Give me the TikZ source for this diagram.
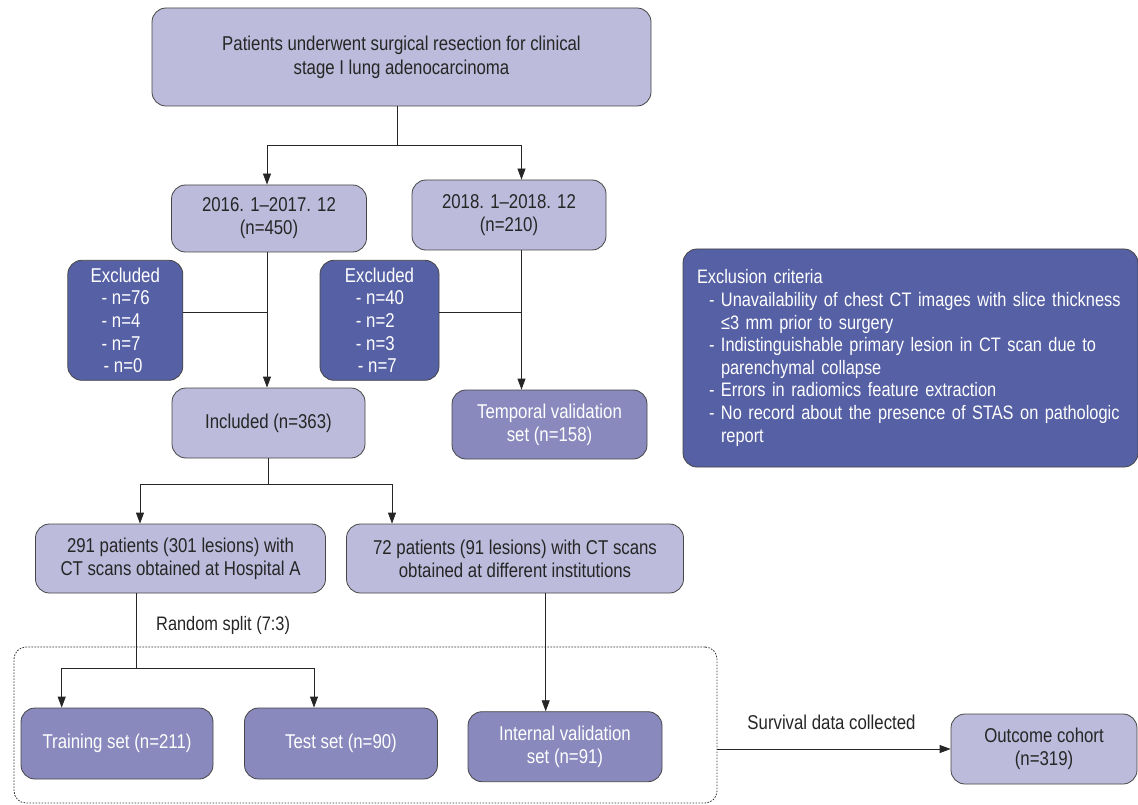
\documentclass[tikz,border=0pt]{standalone}
\usepackage{fontspec}
\setmainfont{Liberation Sans}[FakeStretch=0.84]
\usetikzlibrary{arrows.meta}
\definecolor{lightbox}{RGB}{188,187,219}
\definecolor{midbox}{RGB}{137,137,189}
\definecolor{darkbox}{RGB}{86,96,164}
\definecolor{edgegray}{RGB}{70,70,70}
\begin{document}
\begin{tikzpicture}[x=1pt,y=-1pt,
  every node/.style={font=\fontsize{20}{23}\selectfont},
  box/.style={draw=edgegray, line width=0.8pt, rounded corners=14pt, align=center, inner sep=0pt},
  lightb/.style={box, fill=lightbox, text=black!85},
  midb/.style={box, fill=midbox, text=white},
  darkb/.style={box, fill=darkbox, text=white},
  ln/.style={draw=black!85, line width=0.8pt},
  arr/.style={ln, -{Triangle[length=11pt,width=8pt]}},
  lbl/.style={text=black!85, inner sep=0pt}
]
\useasboundingbox (0,0) rectangle (1138,805);
\fill[white] (0,0) rectangle (1138,805);

% boxes
\node[lightb, minimum width=499pt, minimum height=98pt, font=\fontsize{20}{24}\selectfont] (top) at (401.5,57) {Patients underwent surgical resection for clinical\\stage I lung adenocarcinoma};
\node[lightb, minimum width=195pt, minimum height=67pt] (b16) at (269,218.5) {2016. 1–2017. 12\\(n=450)};
\node[lightb, minimum width=194pt, minimum height=70pt] (b18) at (509,215) {2018. 1–2018. 12\\(n=210)};
\node[darkb, minimum width=115pt, minimum height=120pt, align=left, font=\fontsize{20}{22.7}\selectfont] (ex1) at (125.3,320.3) {Excluded\\\hspace*{11pt}- n=76\\\hspace*{11pt}- n=4\\\hspace*{11pt}- n=7\\\hspace*{13pt}- n=0};
\node[darkb, minimum width=119pt, minimum height=120pt, align=left, font=\fontsize{20}{22.7}\selectfont] (ex2) at (379.5,320.3) {Excluded\\\hspace*{11pt}- n=40\\\hspace*{11pt}- n=2\\\hspace*{11pt}- n=3\\\hspace*{13pt}- n=7};
\node[lightb, minimum width=193pt, minimum height=70pt] (inc) at (268.5,423) {Included (n=363)};
\node[midb, minimum width=195pt, minimum height=69pt] (temp) at (549.5,424.5) {Temporal validation\\set (n=158)};
\node[darkb, minimum width=455pt, minimum height=218pt, align=left, text width=427pt, font=\fontsize{19.5}{22.6}\selectfont] (crit) at (910.5,358) {\mbox{Exclusion criteria}\\
\mbox{\hspace*{12pt}- Unavailability of chest CT images with slice thickness}\\
\mbox{\hspace*{24pt}≤3 mm prior to surgery}\\
\mbox{\hspace*{12pt}- Indistinguishable primary lesion in CT scan due to}\\
\mbox{\hspace*{24pt}parenchymal collapse}\\
\mbox{\hspace*{12pt}- Errors in radiomics feature extraction}\\
\mbox{\hspace*{12pt}- No record about the presence of STAS on pathologic}\\
\mbox{\hspace*{24pt}report}};
\node[lightb, minimum width=290pt, minimum height=69pt] (hosA) at (180.5,558.5) {291 patients (301 lesions) with\\CT scans obtained at Hospital A};
\node[lightb, minimum width=337pt, minimum height=69pt] (diff) at (515,558.5) {72 patients (91 lesions) with CT scans\\obtained at different institutions};
\node[midb, minimum width=192pt, minimum height=71pt] (train) at (117,743.5) {Training set (n=211)};
\node[midb, minimum width=193pt, minimum height=71pt] (test) at (341,743.5) {Test set (n=90)};
\node[midb, minimum width=194pt, minimum height=70pt] (intv) at (565,746.7) {Internal validation\\set (n=91)};
\node[lightb, minimum width=186pt, minimum height=70pt] (out) at (1044,749) {Outcome cohort\\(n=319)};

% dashed group
\node[draw=black!80, line width=0.8pt, dash pattern=on 1.6pt off 1.4pt, rounded corners=12pt, minimum width=703pt, minimum height=156pt, inner sep=0pt] (grp) at (365.5,725) {};

% junction coordinates
\coordinate (j1) at (397,145);
\coordinate (j1l) at (267,145);
\coordinate (j1r) at (521.5,145);
\coordinate (j2) at (267,312);
\coordinate (j3) at (521.5,312);
\coordinate (j4) at (268,484);
\coordinate (j4l) at (140,484);
\coordinate (j4r) at (392,484);
\coordinate (j5) at (136,668);
\coordinate (j5l) at (61.7,668);
\coordinate (j5r) at (314,668);
\coordinate (j6) at (545.7,600);

% connectors
\draw[ln] (top.south -| j1) -- (j1);
\draw[ln] (j1l) -- (j1r);
\draw[arr] (j1l) -- (b16.north -| j1l);
\draw[arr] (j1r) -- (b18.north -| j1r);

\draw[arr] (b16.south -| j2) -- (inc.north -| j2);
\draw[ln] (ex1.east |- j2) -- (j2);
\draw[arr] (b18.south -| j3) -- (temp.north -| j3);
\draw[ln] (ex2.east |- j3) -- (j3);

\draw[ln] (inc.south -| j4) -- (j4);
\draw[ln] (j4l) -- (j4r);
\draw[arr] (j4l) -- (hosA.north -| j4l);
\draw[arr] (j4r) -- (diff.north -| j4r);

\draw[ln] (hosA.south -| j5) -- (j5);
\draw[ln] (j5l) -- (j5r);
\draw[arr] (j5l) -- (train.north -| j5l);
\draw[arr] (j5r) -- (test.north -| j5r);
\node[lbl, anchor=west, font=\fontsize{19.5}{22}\selectfont] (rs) at (156,625) {Random split (7:3)};

\draw[arr] (diff.south -| j6) -- (intv.north -| j6);

\draw[arr] (out.west -| grp.east) -- (out.west);
\node[lbl] (sdc) at (831.5,722) {Survival data collected};
\end{tikzpicture}
\end{document}
